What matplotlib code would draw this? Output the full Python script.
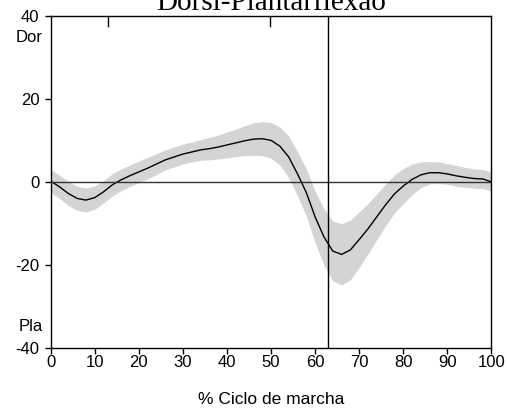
import numpy as np
import matplotlib
matplotlib.use("Agg")
import matplotlib.pyplot as plt

# % of gait cycle, mean curve and half-width of the grey band
ciclo = np.arange(0, 101, 2)
media = [0.2, -1.2, -2.8, -4.0, -4.4, -3.8, -2.4, -0.7, 0.5, 1.5,
         2.4, 3.3, 4.3, 5.3, 6.0, 6.7, 7.2, 7.7, 8.0, 8.4,
         8.9, 9.4, 9.9, 10.3, 10.4, 10.0, 8.6, 6.0, 1.9, -2.6,
         -8.5, -13.3, -16.7, -17.5, -16.4, -13.9, -11.3, -8.4, -5.5, -2.9,
         -1.0, 0.6, 1.7, 2.2, 2.2, 1.9, 1.45, 1.1, 0.8, 0.7,
         0.0]
desvio = [2.8, 2.8, 2.9, 2.9, 2.9, 2.8, 2.7, 2.7, 2.6, 2.6,
          2.6, 2.6, 2.5, 2.4, 2.4, 2.4, 2.4, 2.5, 2.7, 2.9,
          3.1, 3.3, 3.6, 3.9, 4.1, 4.3, 4.6, 5.0, 5.3, 5.7,
          6.2, 6.8, 7.2, 7.4, 7.2, 6.7, 6.1, 5.5, 5.0, 4.6,
          4.2, 3.7, 3.1, 2.7, 2.6, 2.5, 2.5, 2.4, 2.3, 2.3,
          2.3]
toe_off = 62.8
eventos = [12.9, 49.8]   # small marks on the top edge

media = np.array(media)
desvio = np.array(desvio)

plt.rcParams['font.family'] = ['Liberation Sans', 'DejaVu Sans']
plt.rcParams['axes.unicode_minus'] = False

fig = plt.figure(figsize=(5.07, 4.08), dpi=100)
ax = fig.add_axes([0.1, 0.1478, 0.8694, 0.813])

ax.fill_between(ciclo, media - desvio, media + desvio, color='#d4d4d4', lw=0)
ax.plot(ciclo, media, color='black', lw=1)
ax.axhline(0, color='#333333', lw=1)
ax.axvline(toe_off, color='black', lw=1)
for e in eventos:
    ax.axvline(e, ymin=0.97, ymax=1, color='black', lw=1)

ax.set_xlim(0, 100)
ax.set_ylim(-40, 40)
ax.set_xticks(range(0, 101, 10))
ax.set_yticks([-40, -20, 0, 20, 40])
ax.tick_params(length=4, width=1, labelsize=12)
ax.tick_params(axis='x', pad=1)
ax.tick_params(axis='y', pad=4)
for s in ax.spines.values():
    s.set_linewidth(1)

ax.text(-0.018, 34.7, 'Dor', transform=ax.get_yaxis_transform(),
        ha='right', va='center', fontsize=12)
ax.text(-0.018, -35, 'Pla', transform=ax.get_yaxis_transform(),
        ha='right', va='center', fontsize=12)

ax.set_xlabel('% Ciclo de marcha', fontsize=12.5, labelpad=16)
ax.set_title('Dorsi-Plantarflexão', fontsize=21, family='Liberation Serif', pad=1.5)

fig.savefig('out.png', dpi=100)
